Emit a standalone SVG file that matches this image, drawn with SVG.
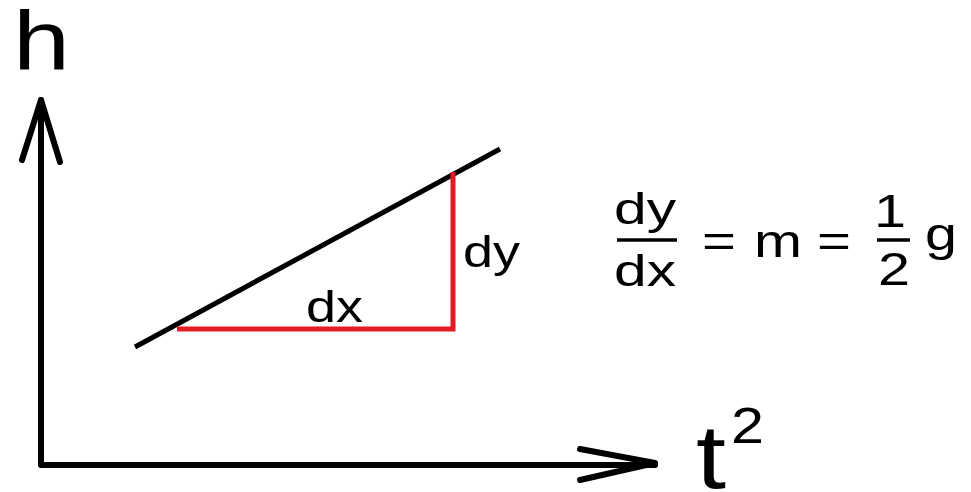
<svg xmlns="http://www.w3.org/2000/svg" width="971" height="492" viewBox="0 0 971 492">
<style>
.t{font-family:"Liberation Sans",Arial,sans-serif;fill:#000}
.ax{stroke:#000;stroke-width:6;fill:none;stroke-linecap:round;stroke-linejoin:round}
.red{stroke:#e31b23;stroke-width:5;fill:none;stroke-linejoin:miter}
.bar{stroke:#000;stroke-width:3.5}
</style>
<rect width="971" height="492" fill="#fff"/>
<g id="axes">
<polyline class="ax" points="41,100 41,465 655,465"/>
<polyline class="ax" points="22,160 41,100 60,162"/>
<polyline class="ax" points="580,449 655,463 580,480"/>
</g>
<g id="labels-axes">
<text class="t" x="13" y="70" font-size="84" textLength="57" lengthAdjust="spacingAndGlyphs">h</text>
<text class="t" x="696" y="488" font-size="90" textLength="30" lengthAdjust="spacingAndGlyphs">t</text>
<text class="t" x="731" y="443" font-size="50" textLength="33" lengthAdjust="spacingAndGlyphs">2</text>
</g>
<g id="slope">
<line x1="135" y1="347" x2="500" y2="149" stroke="#000" stroke-width="5"/>
<polyline class="red" points="177,329 453,329 453,172"/>
<text class="t" x="306" y="322" font-size="45" textLength="57" lengthAdjust="spacingAndGlyphs">dx</text>
<text class="t" x="463" y="267" font-size="45" textLength="57" lengthAdjust="spacingAndGlyphs">dy</text>
</g>
<g id="equation">
<text class="t" x="614" y="224" font-size="45" textLength="62" lengthAdjust="spacingAndGlyphs">dy</text>
<line class="bar" x1="617" y1="240" x2="677" y2="240"/>
<text class="t" x="614" y="286" font-size="45" textLength="62" lengthAdjust="spacingAndGlyphs">dx</text>
<text class="t" x="702" y="257" font-size="46" textLength="34" lengthAdjust="spacingAndGlyphs">=</text>
<text class="t" x="754" y="257" font-size="46" textLength="48" lengthAdjust="spacingAndGlyphs">m</text>
<text class="t" x="817" y="257" font-size="46" textLength="34" lengthAdjust="spacingAndGlyphs">=</text>
<text class="t" x="874" y="227" font-size="46" textLength="32" lengthAdjust="spacingAndGlyphs">1</text>
<line class="bar" x1="877" y1="240" x2="910" y2="240"/>
<text class="t" x="878" y="285" font-size="46" textLength="32" lengthAdjust="spacingAndGlyphs">2</text>
<text class="t" x="925" y="250" font-size="46" textLength="32" lengthAdjust="spacingAndGlyphs">g</text>
</g>
</svg>
